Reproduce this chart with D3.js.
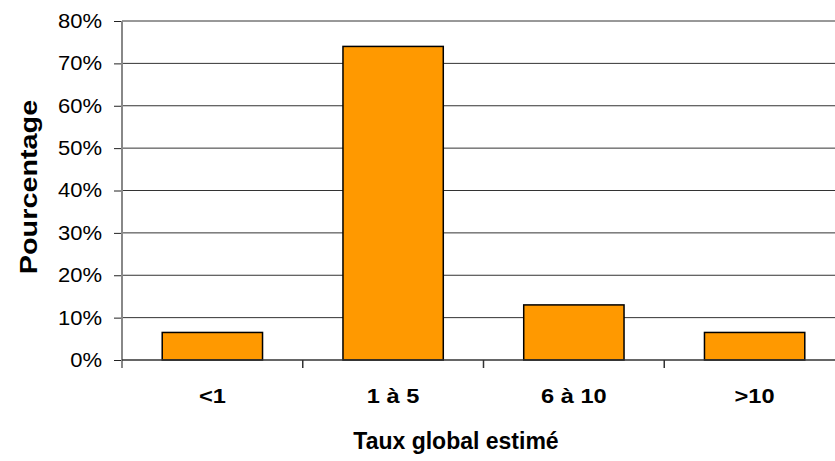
<!DOCTYPE html>
<html>
<head>
<meta charset="utf-8">
<script src="https://cdn.jsdelivr.net/npm/d3@7"></script>
<style>
  html, body { margin: 0; padding: 0; background: #fff; }
  svg { display: block; font-family: "Liberation Sans", Arial, sans-serif; }
</style>
</head>
<body>
<svg id="chart" width="835" height="461"></svg>
<script>
// Répartition du taux global estimé
const categories = ["<1", "1 à 5", "6 à 10", ">10"];
const values = [6.5, 74, 13, 6.5];
const yTicks = [0, 10, 20, 30, 40, 50, 60, 70, 80];
const yTitle = "Pourcentage";
const xTitle = "Taux global estimé";

const svg = d3.select("#chart");
const margin = { left: 122, top: 21, right: -10, bottom: 101 };
const W = 835, H = 461;
const x0 = margin.left, x1 = W - margin.right;
const y0 = H - margin.bottom, y1 = margin.top;

const x = d3.scaleBand().domain(categories).range([x0, x1]).paddingInner(0.445).paddingOuter(0.2225);
const xOuter = d3.scaleBand().domain(categories).range([x0, x1]);
const y = d3.scaleLinear().domain([0, 80]).range([y0, y1]);

// widen text glyphs horizontally by a given factor
function widen(sel, k) {
  sel.each(function () {
    const len = this.getComputedTextLength();
    d3.select(this).attr("textLength", len * k).attr("lengthAdjust", "spacingAndGlyphs");
  });
}

// horizontal gridlines
svg.append("g")
  .selectAll("line")
  .data(yTicks.slice(1))
  .join("line")
  .attr("x1", x0).attr("x2", x1)
  .attr("y1", d => y(d)).attr("y2", d => y(d))
  .attr("stroke", "#333").attr("stroke-width", 1);

// bars
svg.append("g")
  .selectAll("rect")
  .data(values)
  .join("rect")
  .attr("x", (d, i) => x(categories[i]))
  .attr("width", x.bandwidth())
  .attr("y", d => y(d))
  .attr("height", d => y(0) - y(d))
  .attr("fill", "#FF9900")
  .attr("stroke", "#000")
  .attr("stroke-width", 1.5);

// y axis
const yAxis = d3.axisLeft(y).tickValues(yTicks).tickFormat(d => d + "%").tickSize(8).tickPadding(12);
const gy = svg.append("g").attr("transform", `translate(${x0},0)`).call(yAxis);
gy.select(".domain").remove();
gy.selectAll(".tick line").attr("stroke", "#222");
gy.append("line").attr("x1", 0).attr("x2", 0).attr("y1", y1).attr("y2", y0 + 8)
  .attr("stroke", "#888").attr("stroke-width", 2);
gy.selectAll(".tick text")
  .attr("font-size", 20).attr("fill", "#000")
  .attr("font-family", "Liberation Sans, Arial, sans-serif")
  .call(widen, 1.1);

// x axis
const gx = svg.append("g").attr("transform", `translate(0,${y0})`);
gx.append("line").attr("x1", x0).attr("x2", x1).attr("y1", 0).attr("y2", 0)
  .attr("stroke", "#333").attr("stroke-width", 1.5);
gx.selectAll("line.tk")
  .data(categories.slice(1))
  .join("line")
  .attr("class", "tk")
  .attr("x1", d => xOuter(d)).attr("x2", d => xOuter(d))
  .attr("y1", 0).attr("y2", 8)
  .attr("stroke", "#333").attr("stroke-width", 1.5);
gx.selectAll("text")
  .data(categories)
  .join("text")
  .attr("x", d => xOuter(d) + xOuter.bandwidth() / 2)
  .attr("y", 43)
  .attr("text-anchor", "middle")
  .attr("font-size", 20).attr("font-weight", "bold")
  .text(d => d)
  .call(widen, 1.18);

// axis titles
svg.append("text")
  .attr("x", 456)
  .attr("y", 449)
  .attr("text-anchor", "middle")
  .attr("font-size", 23).attr("font-weight", "bold")
  .text(xTitle)
  .call(widen, 1.0);

svg.append("text")
  .attr("transform", `translate(37,187) rotate(-90)`)
  .attr("text-anchor", "middle")
  .attr("font-size", 24).attr("font-weight", "bold")
  .text(yTitle)
  .call(widen, 1.2);
</script>
</body>
</html>
